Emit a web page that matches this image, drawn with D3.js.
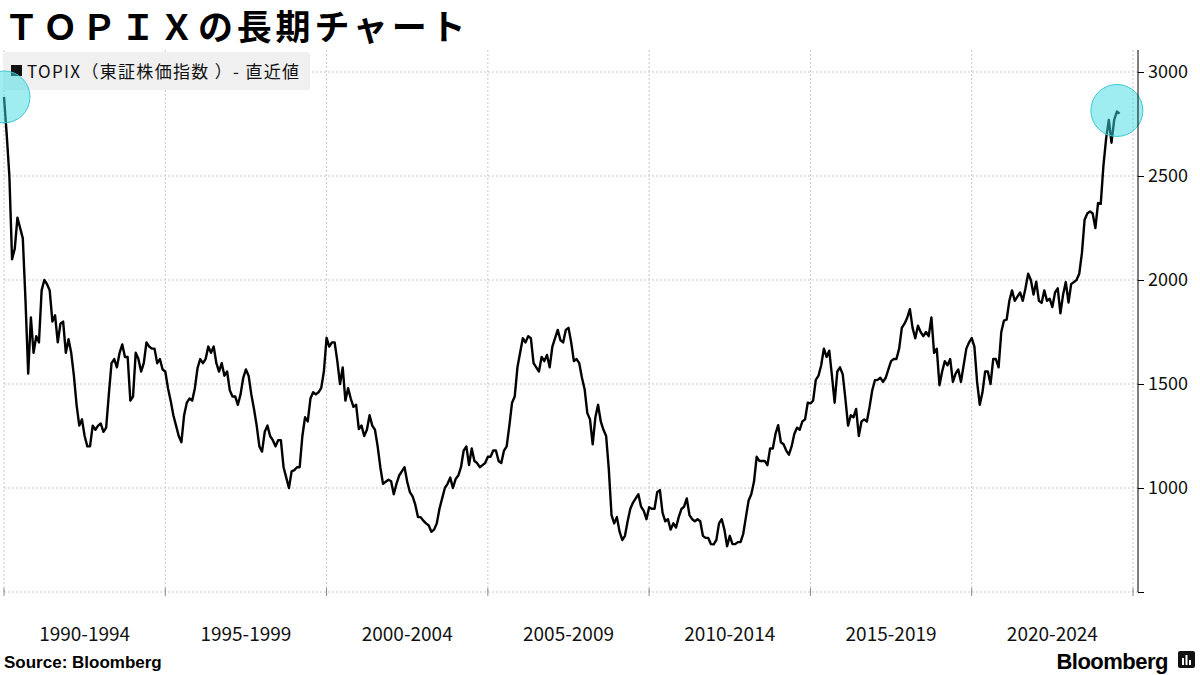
<!DOCTYPE html>
<html><head><meta charset="utf-8">
<script src="https://cdn.jsdelivr.net/npm/d3@7"></script>
<style>body{margin:0;background:#fff}svg{display:block}</style>
</head><body><svg id="c" width="1200" height="675"></svg>
<script>
const startYear = 1990;
const monthly = [
2700,2500,2100,2150,2300,2250,2200,1900,1550,1820,1650,1730,
1700,1950,2000,1980,1950,1800,1830,1700,1790,1800,1650,1715,
1650,1540,1400,1300,1330,1250,1200,1200,1300,1280,1300,1310,
1270,1290,1450,1600,1620,1580,1650,1690,1630,1630,1420,1440,
1650,1620,1560,1600,1700,1680,1670,1670,1600,1620,1570,1560,
1480,1420,1350,1300,1250,1220,1350,1410,1430,1420,1480,1577,
1620,1600,1620,1680,1650,1680,1600,1560,1600,1540,1560,1470,
1440,1440,1400,1450,1530,1570,1540,1450,1380,1300,1200,1175,
1270,1300,1250,1230,1200,1230,1230,1100,1050,1000,1080,1086,
1100,1100,1250,1340,1320,1430,1460,1450,1460,1480,1560,1722,
1680,1700,1700,1610,1500,1580,1420,1480,1430,1390,1400,1283,
1300,1250,1280,1350,1300,1280,1200,1100,1020,1030,1040,1032,
970,1020,1060,1080,1100,1030,980,960,920,860,860,843,
830,820,790,800,830,900,950,1000,1020,1050,1000,1043,
1060,1100,1180,1200,1110,1190,1130,1120,1100,1110,1120,1150,
1150,1180,1180,1130,1120,1180,1200,1300,1410,1440,1580,1650,
1720,1700,1730,1720,1600,1580,1560,1630,1610,1640,1580,1680,
1720,1760,1710,1700,1760,1770,1700,1610,1620,1600,1530,1475,
1360,1330,1210,1340,1400,1320,1280,1250,1090,870,830,860,
790,750,770,840,900,930,950,970,910,890,850,907,
900,900,980,990,880,840,850,800,830,810,860,899,
910,950,870,850,840,850,840,770,760,760,730,729,
750,830,850,800,720,770,730,730,740,740,780,860,
940,970,1030,1150,1130,1130,1130,1110,1190,1190,1260,1302,
1220,1210,1180,1160,1200,1260,1290,1280,1320,1330,1410,1407,
1420,1520,1540,1590,1670,1630,1660,1540,1410,1560,1580,1547,
1430,1300,1350,1340,1380,1250,1320,1330,1320,1390,1470,1518,
1520,1530,1510,1530,1570,1610,1620,1620,1670,1770,1790,1818,
1860,1770,1720,1780,1750,1730,1750,1730,1820,1650,1670,1494,
1560,1610,1590,1620,1510,1550,1570,1510,1590,1670,1700,1721,
1680,1510,1400,1460,1560,1560,1500,1620,1620,1580,1750,1805,
1810,1900,1950,1900,1920,1940,1900,1960,2030,2000,1930,1992,
1900,1890,1950,1900,1910,1870,1940,1960,1840,1930,1990,1892,
1980,1990,2000,2030,2130,2290,2320,2330,2320,2250,2370,2366,
2550,2680,2770,2660,2770,2810,2800];
const firstValue = 2880;
const periodLabels = ["1990-1994","1995-1999","2000-2004","2005-2009","2010-2014","2015-2019","2020-2024"];
const yTicks = [500,1000,1500,2000,2500,3000];
const highlights = [{t:1990.0,v:2880},{t:2024.5,v:2815}];

const data = [{t:1990, v:firstValue}].concat(monthly.map((v,i)=>({t:startYear+(i+1)/12, v})));
const svg = d3.select("#c");
const x = d3.scaleLinear().domain([1990,2025]).range([4,1133]);
const y = d3.scaleLinear().domain([500,3000]).range([592,72]);
const font = "'Noto Sans CJK JP','Noto Sans',sans-serif";

svg.append("text").attr("x",4).attr("y",40).attr("font-family",font).attr("font-weight",700)
 .attr("font-size",35).attr("letter-spacing",3.8).text("ＴＯＰＩＸの長期チャート");

svg.append("g").selectAll("line").data(yTicks).join("line")
 .attr("x1",4).attr("x2",1138).attr("y1",d=>y(d)).attr("y2",d=>y(d))
 .attr("stroke","#c8c8c8").attr("stroke-dasharray","2,2").attr("stroke-width",1);
svg.append("g").selectAll("line").data(d3.range(1990,2026,5)).join("line")
 .attr("x1",d=>x(d)).attr("x2",d=>x(d)).attr("y1",50).attr("y2",592)
 .attr("stroke","#c8c8c8").attr("stroke-dasharray","2,2").attr("stroke-width",1);

svg.append("rect").attr("x",3).attr("y",52).attr("width",307).attr("height",38).attr("rx",3).attr("fill","#f0f0f0");
svg.append("rect").attr("x",11).attr("y",65).attr("width",11).attr("height",11).attr("fill","#111");
svg.append("text").attr("x",27).attr("y",78).attr("font-family","'Noto Sans CJK JP',sans-serif").attr("font-size",17).attr("fill","#111")
 .attr("textLength",272).text("TOPIX（東証株価指数 ）- 直近値");

svg.append("path").datum(data).attr("fill","none").attr("stroke","#000").attr("stroke-width",2.4)
 .attr("stroke-linejoin","round").attr("d",d3.line().x(d=>x(d.t)).y(d=>y(d.v)));

svg.append("g").selectAll("circle").data(highlights).join("circle")
 .attr("cx",d=>x(d.t)).attr("cy",d=>y(d.v)).attr("r",26)
 .attr("fill","rgba(64,220,225,0.5)").attr("stroke","#3cc8d0").attr("stroke-width",1);

const ax = svg.append("g").attr("transform","translate(1138,0)")
 .call(d3.axisRight(y).tickValues(yTicks).tickSize(6).tickFormat(d=>d===500?"":d));
ax.select(".domain").attr("d","M0,50V592").attr("stroke","#000");
ax.selectAll("text").attr("font-family",font).attr("font-size",18).attr("fill","#111").attr("x",10);
ax.selectAll(".tick line").attr("stroke","#000");

svg.append("g").selectAll("text").data(periodLabels).join("text")
 .attr("x",(d,i)=>x(1992.5+5*i)).attr("y",641).attr("text-anchor","middle")
 .attr("font-family",font).attr("font-size",19).attr("fill","#111").text(d=>d);
svg.append("g").selectAll("line").data(d3.range(1990,2026,5)).join("line")
 .attr("x1",d=>x(d)).attr("x2",d=>x(d)).attr("y1",588).attr("y2",596).attr("stroke","#888");

svg.append("text").attr("x",4).attr("y",668).attr("font-family","'Liberation Sans',Arial,sans-serif")
 .attr("font-weight",700).attr("font-size",17).text("Source:  Bloomberg");
svg.append("text").attr("x",1168).attr("y",669).attr("text-anchor","end").attr("font-family","'Liberation Sans',Arial,sans-serif")
 .attr("font-weight",700).attr("font-size",22).attr("letter-spacing",-0.5).text("Bloomberg");
svg.append("rect").attr("x",1178).attr("y",651).attr("width",17).attr("height",17).attr("rx",2).attr("fill","#111");
svg.append("g").selectAll("rect").data([0,1,2]).join("rect")
 .attr("x",d=>1182+d*3.5).attr("y",d=>[658,655,660][d]).attr("width",2).attr("height",d=>[7,10,5][d]).attr("fill","#fff");
</script></body></html>
